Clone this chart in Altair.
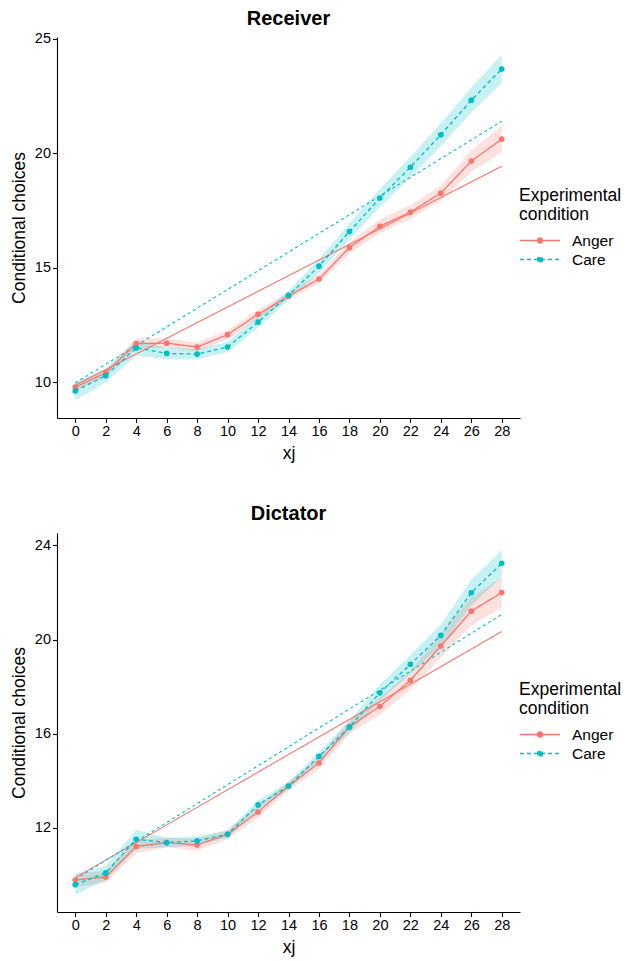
import altair as alt
import pandas as pd

# ---------------- data ----------------
xj = [0, 2, 4, 6, 8, 10, 12, 14, 16, 18, 20, 22, 24, 26, 28]
conditions = ["Anger", "Care"]
colors = ["#F8766D", "#00BFC4"]

# Receiver panel
recv_anger = [9.78, 10.40, 11.68, 11.70, 11.53, 12.07, 12.96, 13.75, 14.50, 15.87, 16.80, 17.42, 18.25, 19.65, 20.61]
recv_anger_ci = [0.15, 0.15, 0.22, 0.20, 0.20, 0.20, 0.20, 0.15, 0.20, 0.25, 0.30, 0.30, 0.33, 0.47, 0.57]
recv_care = [9.61, 10.28, 11.49, 11.25, 11.22, 11.53, 12.62, 13.79, 15.06, 16.57, 18.04, 19.38, 20.80, 22.31, 23.67]
recv_care_ci = [0.40, 0.30, 0.33, 0.25, 0.22, 0.22, 0.25, 0.20, 0.30, 0.35, 0.40, 0.45, 0.50, 0.55, 0.62]
recv_fit_x = [0, 28]
recv_fit_anger = [9.86, 19.43]
recv_fit_care = [9.96, 21.39]

# Dictator panel
dict_anger = [9.79, 9.92, 11.21, 11.38, 11.28, 11.73, 12.68, 13.78, 14.76, 16.30, 17.17, 18.27, 19.73, 21.21, 22.00]
dict_anger_ci = [0.30, 0.25, 0.30, 0.20, 0.25, 0.20, 0.25, 0.20, 0.25, 0.30, 0.35, 0.40, 0.50, 0.60, 0.64]
dict_care = [9.59, 10.09, 11.52, 11.38, 11.45, 11.73, 12.98, 13.78, 15.04, 16.29, 17.74, 18.95, 20.18, 21.99, 23.24]
dict_care_ci = [0.42, 0.30, 0.40, 0.20, 0.20, 0.15, 0.20, 0.15, 0.20, 0.25, 0.35, 0.40, 0.45, 0.55, 0.57]
dict_fit_x = [0, 28]
dict_fit_anger = [9.89, 20.35]
dict_fit_care = [9.82, 21.07]

FONT = "Liberation Sans"
# legend key: a 40px line with a dot in its middle (units of 9px, symbol centre at x=0)
LEGEND_PATH = "M-1,0H3.44M1.51,0A0.29,0.29,0,1,1,0.93,0A0.29,0.29,0,1,1,1.51,0Z"


def make_panel(title, anger, anger_ci, care, care_ci, fit_x, fit_a, fit_c,
               ydomain, yticks, height, title_offset, legend_y):
    rows = []
    for cond, vals, ci in (("Anger", anger, anger_ci), ("Care", care, care_ci)):
        for x, v, c in zip(xj, vals, ci):
            rows.append({"xj": x, "cond": cond, "mean": v, "lo": v - c, "hi": v + c})
    df = pd.DataFrame(rows)
    fa = pd.DataFrame({"xj": fit_x, "fit": fit_a})
    fc = pd.DataFrame({"xj": fit_x, "fit": fit_c})

    xs = alt.Scale(domain=[-1.2, 29.2], nice=False, zero=False)
    ys = alt.Scale(domain=ydomain, nice=False, zero=False)
    xaxis = alt.Axis(values=xj, title="xj", labelOverlap=False)
    yaxis = alt.Axis(values=yticks, title="Conditional choices", labelOverlap=False)
    X = alt.X("xj:Q", scale=xs, axis=xaxis)

    legend = alt.Legend(
        title=["Experimental", "condition"], orient="none", legendX=462, legendY=legend_y,
        symbolType=LEGEND_PATH, symbolSize=324, symbolStrokeWidth=1.3,
        titleFontSize=17.5, titleFontWeight="normal", titleLineHeight=19, labelFontSize=15.5,
        titleFont=FONT, labelFont=FONT, titleColor="black", labelColor="black",
        labelOffset=33, rowPadding=0, titlePadding=7,
    )
    cscale = alt.Scale(domain=conditions, range=colors)
    dscale = alt.Scale(domain=conditions, range=[[1, 0], [4, 3]])

    base = alt.Chart(df)
    band_a = base.transform_filter(alt.datum.cond == "Anger").mark_area(
        opacity=0.22, color=colors[0]).encode(
        x=X, y=alt.Y("lo:Q", scale=ys, axis=yaxis), y2="hi:Q")
    band_c = base.transform_filter(alt.datum.cond == "Care").mark_area(
        opacity=0.22, color=colors[1]).encode(
        x=X, y=alt.Y("lo:Q", scale=ys, axis=yaxis), y2="hi:Q")
    fit_anger = alt.Chart(fa).mark_line(strokeWidth=1.1, color=colors[0]).encode(
        x=X, y=alt.Y("fit:Q", scale=ys, axis=yaxis))
    fit_care = alt.Chart(fc).mark_line(strokeWidth=1.1, color=colors[1], strokeDash=[3, 3]).encode(
        x=X, y=alt.Y("fit:Q", scale=ys, axis=yaxis))
    lines = base.mark_line(strokeWidth=1.3).encode(
        x=X,
        y=alt.Y("mean:Q", scale=ys, axis=yaxis),
        color=alt.Color("cond:N", scale=cscale, legend=legend),
        strokeDash=alt.StrokeDash("cond:N", scale=dscale, legend=legend),
    )
    points = base.mark_point(filled=True, size=32, opacity=1).encode(
        x=X,
        y=alt.Y("mean:Q", scale=ys, axis=yaxis),
        color=alt.Color("cond:N", scale=cscale, legend=legend),
    )
    return alt.layer(band_a, band_c, fit_anger, fit_care, lines, points).properties(
        width=463, height=height,
        title=alt.TitleParams(title, fontSize=20, fontWeight="bold", font=FONT,
                              anchor="middle", frame="group", color="black",
                              offset=title_offset),
    )


top = make_panel("Receiver", recv_anger, recv_anger_ci, recv_care, recv_care_ci,
                 recv_fit_x, recv_fit_anger, recv_fit_care, [8.43, 25.07], [10, 15, 20, 25], 381, 2, 150)
bottom = make_panel("Dictator", dict_anger, dict_anger_ci, dict_care, dict_care_ci,
                    dict_fit_x, dict_fit_anger, dict_fit_care, [8.43, 24.53], [12, 16, 20, 24], 379, 9, 148)

chart = alt.vconcat(top, bottom, spacing=42).resolve_legend(
    color="independent", strokeDash="independent"
).resolve_scale(color="independent", strokeDash="independent").properties(
    padding={"left": 10, "top": 8, "right": 5, "bottom": 5},
    background="white",
).configure_view(stroke=None).configure_axis(
    grid=False, domainColor="black", domainWidth=1.1, tickColor="black", tickWidth=1.1,
    tickSize=4.5, labelColor="black", titleColor="black", labelFontSize=14.5,
    titleFontSize=17.5, titleFontWeight="normal", labelFont=FONT, titleFont=FONT,
    labelPadding=2, titlePadding=6, labelOverlap=False,
)

chart.save("out.html", embed_options={"renderer": "svg", "actions": False})
